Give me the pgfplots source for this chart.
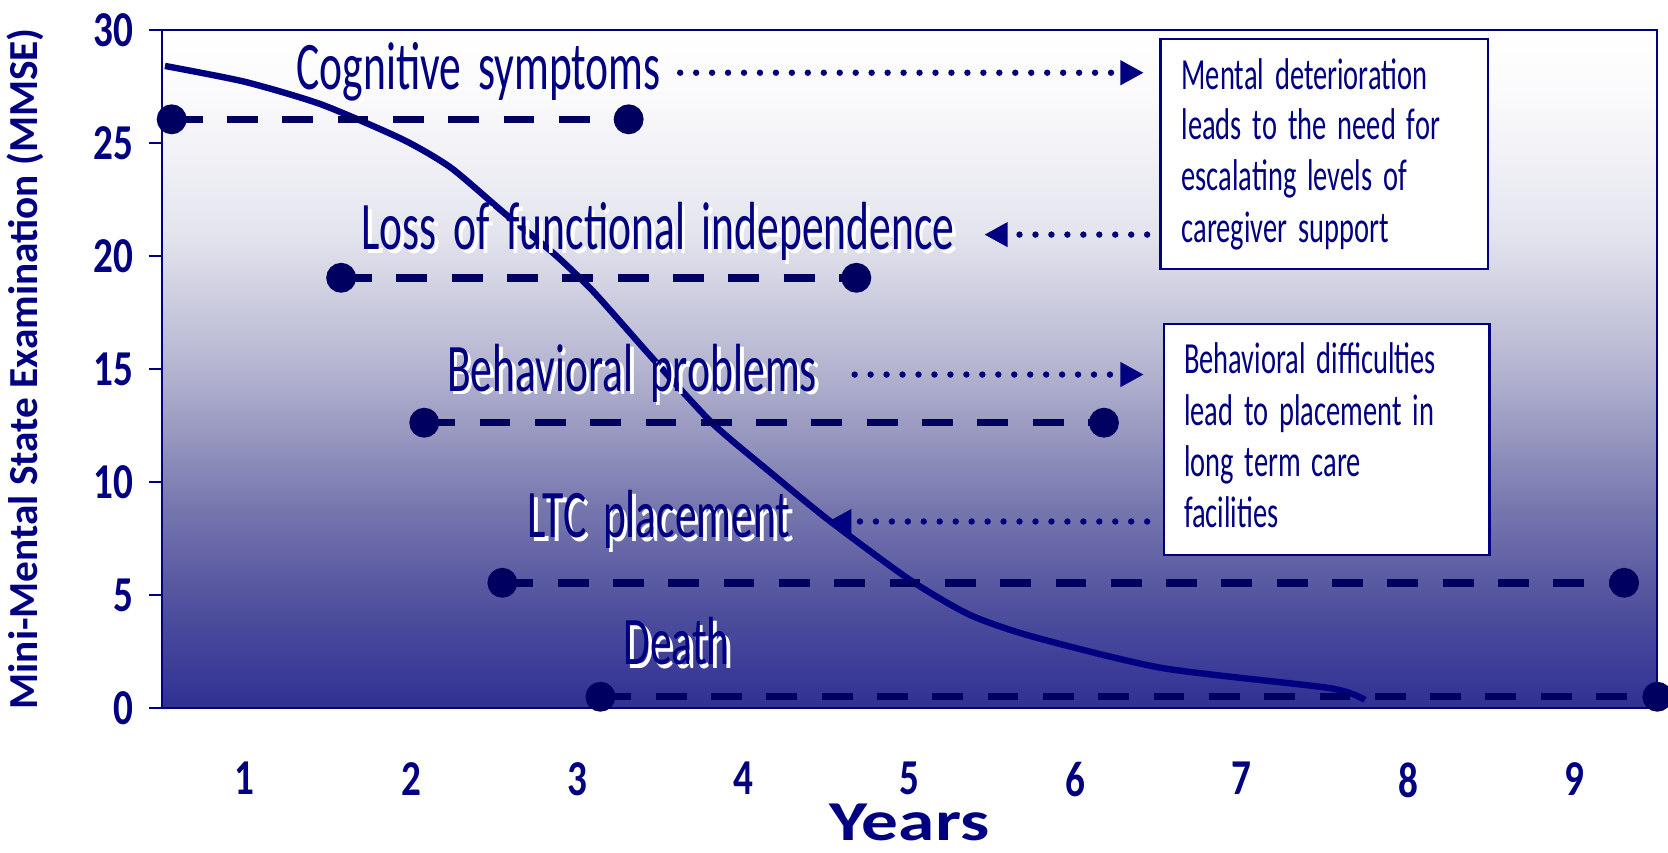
\documentclass[border=0pt]{standalone}
\usepackage{fontspec}
\setmainfont{Carlito}
\newfontfamily\condfont{Carlito}[FakeStretch=0.64, WordSpace=1.7]
\newfontfamily\tickfont{Carlito}[FakeStretch=0.78]
\newfontfamily\widefont{Carlito}[FakeStretch=1.3]
\usepackage{pgfplots}
\pgfplotsset{compat=1.18}
\usetikzlibrary{arrows.meta}

\definecolor{navytext}{RGB}{0,0,128}
\definecolor{dashcol}{RGB}{0,0,96}
\definecolor{bgA}{RGB}{250,250,252}
\definecolor{bgB}{RGB}{228,228,238}
\definecolor{bgC}{RGB}{180,180,208}
\definecolor{bgD}{RGB}{120,120,175}
\definecolor{bgE}{RGB}{80,80,158}
\definecolor{bgF}{RGB}{48,48,148}
\pgfdeclareverticalshading{mmsebg}{100bp}{color(0bp)=(bgF); color(25bp)=(bgF);
  color(32.5bp)=(bgE); color(40bp)=(bgD); color(50bp)=(bgC); color(60bp)=(bgB);
  color(70bp)=(bgA); color(75bp)=(white); color(100bp)=(white)}

% label with a white drop shadow
\newcommand{\stage}[3]{%
  \node[anchor=base west, inner sep=0pt, text=white, font=\condfont\fontsize{32}{36}\selectfont]
    at ([shift={(1.75pt,-1.75pt)}]axis cs:#1,#2) {#3};
  \node[anchor=base west, inner sep=0pt, text=navytext, font=\condfont\fontsize{32}{36}\selectfont]
    at (axis cs:#1,#2) {#3};}
\newcommand{\boxline}[3]{%
  \node[anchor=base west, inner sep=0pt, text=navytext, font=\condfont\fontsize{20.9}{24}\selectfont]
    at (axis cs:#1,#2) {#3};}

\tikzset{
  stageline/.style={dashcol, line width=3.5pt, dash pattern=on 14.5pt off 11.5pt,
    mark=*, mark size=5.25pt, mark options={solid, fill=dashcol, draw=dashcol}},
  dotarrow/.style={navytext, line width=3pt, line cap=round, dash pattern=on 0pt off 7.5pt,
    -{Triangle[length=11pt,width=11pt]}}
}

\begin{document}
\begin{tikzpicture}
\useasboundingbox (-76pt,-67.7pt) rectangle (708pt,332.8pt);
\begin{axis}[
    at={(0,0)}, anchor=south west,
    scale only axis,
    width=703pt, height=318.8pt,
    xmin=0.5, xmax=9.5,
    ymin=0, ymax=30,
    xtick={1,...,9},
    ytick={0,5,...,30},
    xtick style={draw=none},
    ytick pos=left,
    tick align=outside,
    major tick length=6pt,
    ytick style={navytext, line width=1pt},
    axis line style={navytext, line width=1pt},
    axis background/.style={shading=mmsebg},
    clip=false,
    /pgf/number format/assume math mode=true,
    ticklabel style={text=navytext, font=\tickfont\bfseries\fontsize{23.6}{26}\selectfont},
    xticklabel style={anchor=north, yshift=-16pt},
    yticklabel style={anchor=east, xshift=-4pt},
    xlabel={Years},
    ylabel={Mini-Mental State Examination (MMSE)},
    label style={text=navytext, inner sep=0pt},
    xlabel style={at={(axis description cs:0.5,-0.196)}, anchor=base,
      font=\widefont\bfseries\fontsize{26.5}{28}\selectfont},
    ylabel style={at={(axis description cs:-0.083,0.5)}, anchor=base,
      font=\bfseries\fontsize{19.4}{21}\selectfont},
]

% MMSE decline curve
\addplot[navytext, line width=3pt, smooth, tension=0.4] coordinates {
  (0.52,28.4)(1.0,27.7)(1.46,26.7)(1.95,25.15)(2.24,23.9)(2.56,21.9)
  (2.86,20.1)(3.1,18.4)(3.45,15.5)(3.81,12.62)(4.15,10.5)(4.51,8.33)
  (5.0,5.68)(5.36,4.13)(5.74,3.16)(6.52,1.77)(7.53,0.88)(7.74,0.36)
};

% stage spans
\addplot[stageline] coordinates {(0.56,26.04)(3.31,26.04)};
\addplot[stageline] coordinates {(1.58,19.03)(4.68,19.03)};
\addplot[stageline] coordinates {(2.08,12.62)(6.17,12.62)};
\addplot[stageline] coordinates {(2.55,5.54)(9.30,5.54)};
\addplot[stageline] coordinates {(3.14,0.50)(9.50,0.50)};

\stage{1.31}{27.37}{Cognitive symptoms}
\stage{1.70}{20.28}{Loss of functional independence}
\stage{2.215}{14.02}{Behavioral problems}
\stage{2.70}{7.53}{LTC placement}
\stage{3.275}{1.91}{Death}

% note boxes
\draw[navytext, line width=1pt, fill=white] (axis cs:6.51,29.6) rectangle (axis cs:8.48,19.43);
\draw[navytext, line width=1pt, fill=white] (axis cs:6.53,17.0) rectangle (axis cs:8.49,6.78);
\boxline{6.635}{27.37}{Mental deterioration}
\boxline{6.635}{25.13}{leads to the need for}
\boxline{6.635}{22.87}{escalating levels of}
\boxline{6.635}{20.58}{caregiver support}
\boxline{6.65}{14.80}{Behavioral difficulties}
\boxline{6.65}{12.49}{lead to placement in}
\boxline{6.65}{10.25}{long term care}
\boxline{6.65}{7.99}{facilities}

% dotted arrows
\draw[dotarrow] (axis cs:3.62,28.1) -- (axis cs:6.41,28.1);
\draw[dotarrow] (axis cs:6.43,20.94) -- (axis cs:5.45,20.94);
\draw[dotarrow] (axis cs:4.67,14.75) -- (axis cs:6.41,14.75);
\draw[dotarrow] (axis cs:6.43,8.25) -- (axis cs:4.51,8.25);

\end{axis}
\end{tikzpicture}
\end{document}
